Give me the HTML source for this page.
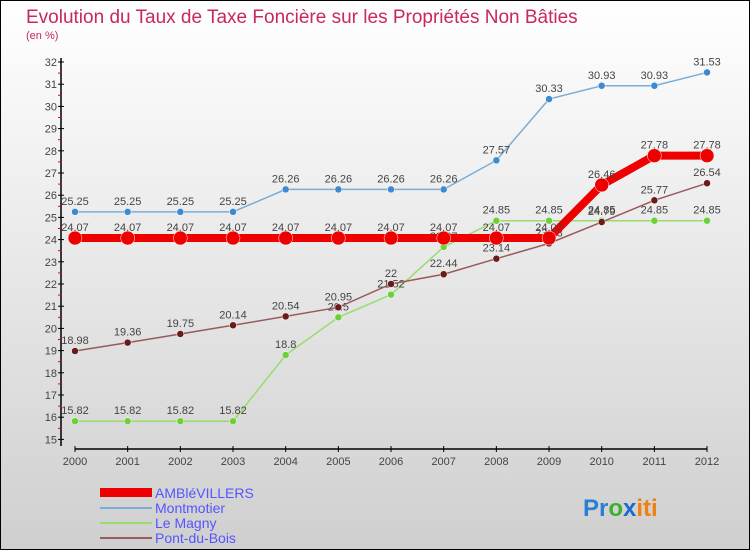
<!DOCTYPE html>
<html><head><meta charset="utf-8"><style>
body{margin:0}
#c{width:750px;height:550px;position:relative;overflow:hidden;font-family:"Liberation Sans",sans-serif}
svg text{font-family:"Liberation Sans",sans-serif}
</style></head><body>
<div id="c">
<svg id="s" width="750" height="550" xmlns="http://www.w3.org/2000/svg">
<defs><linearGradient id="bg" x1="0" y1="0" x2="0" y2="1"><stop offset="0" stop-color="#ffffff"/><stop offset="1" stop-color="#cfcfcf"/></linearGradient></defs>
<rect x="0.5" y="0.5" width="749" height="549" fill="url(#bg)" stroke="#000"/>
<text x="26" y="23" font-size="19" fill="#c8285a">Evolution du Taux de Taxe Foncière sur les Propriétés Non Bâties</text>
<text x="26" y="39" font-size="11" fill="#c8285a">(en %)</text>
<g id="axes"></g><g id="series"></g>
<g>
<rect x="100" y="488" width="52" height="9" fill="#e00"/>
<text x="155" y="498" font-size="14" fill="#55f">AMBléVILLERS</text>
<line x1="100" y1="508" x2="152" y2="508" stroke="#7aaed6" stroke-width="2"/>
<text x="155" y="513" font-size="14" fill="#55f">Montmotier</text>
<line x1="100" y1="523" x2="152" y2="523" stroke="#98dc6a" stroke-width="2"/>
<text x="155" y="528" font-size="14" fill="#55f">Le Magny</text>
<line x1="100" y1="538" x2="152" y2="538" stroke="#9a5a5a" stroke-width="2"/>
<text x="155" y="543" font-size="14" fill="#55f">Pont-du-Bois</text>
</g>
<text x="583" y="516" font-size="24" font-weight="bold"><tspan fill="#2a7fd4">Pr</tspan><tspan fill="#3cb030">o</tspan><tspan fill="#1a6ad0">x</tspan><tspan fill="#f08010">iti</tspan></text>
</svg></div>
<script>
const years=[2000,2001,2002,2003,2004,2005,2006,2007,2008,2009,2010,2011,2012];
const yTicks=[15,16,17,18,19,20,21,22,23,24,25,26,27,28,29,30,31,32];
const amble=[24.07,24.07,24.07,24.07,24.07,24.07,24.07,24.07,24.07,24.07,26.46,27.78,27.78];
const montmotier=[25.25,25.25,25.25,25.25,26.26,26.26,26.26,26.26,27.57,30.33,30.93,30.93,31.53];
const magny=[15.82,15.82,15.82,15.82,18.8,20.5,21.52,23.67,24.85,24.85,24.85,24.85,24.85];
const pont=[18.98,19.36,19.75,20.14,20.54,20.95,22,22.44,23.14,23.83,24.79,25.77,26.54];
const NS="http://www.w3.org/2000/svg";
const X=i=>75+i*52.67, Y=v=>62+(32-v)*22.2;
function mk(t,a,p){const e=document.createElementNS(NS,t);for(const k in a)e.setAttribute(k,a[k]);p.appendChild(e);return e;}
const ax=document.getElementById('axes');
let l=mk('line',{x1:61,y1:58,x2:61,y2:446,stroke:'#000','stroke-width':1.5},ax);


l=mk('line',{x1:75,y1:449,x2:707,y2:449,stroke:'#000','stroke-width':1.5},ax);


yTicks.forEach(v=>{mk('line',{x1:58,y1:Y(v),x2:64,y2:Y(v),stroke:'#000'},ax);
if(v<32)mk('line',{x1:58,y1:Y(v+0.5),x2:61,y2:Y(v+0.5),stroke:'#e00'},ax);
const t=mk('text',{x:57,y:Y(v)+4,'font-size':11,'text-anchor':'end',fill:'#444'},ax);t.textContent=v;

});
years.forEach((y,i)=>{mk('line',{x1:X(i),y1:446,x2:X(i),y2:452,stroke:'#000'},ax);
const t=mk('text',{x:X(i),y:465,'font-size':11,'text-anchor':'middle',fill:'#444'},ax);t.textContent=y;

});
const sg=document.getElementById('series');
function series(data,color,w,r,dot,name){
const g=mk('g',{},sg);


const p=mk('polyline',{points:data.map((v,i)=>X(i)+','+Y(v)).join(' '),fill:'none',stroke:color,'stroke-width':w},g);


data.forEach((v,i)=>{const c=mk('circle',{cx:X(i),cy:Y(v),r:r,fill:dot,stroke:'#fff','stroke-width':0.5},g);


const t=mk('text',{x:X(i),y:Y(v)-7,'font-size':11,'text-anchor':'middle',fill:'#444'},g);t.textContent=v;

});}
series(montmotier,'#7aaed6',1.5,3.5,'#3c8ad0','montmotier');
series(magny,'#98dc6a',1.5,3.5,'#6cd03a','le-magny');
series(pont,'#9a5a5a',1.5,3.5,'#6a1a1a','pont-du-bois');
series(amble,'#ee0000',8,7,'#ee0000','amblevillers');
</script>
</body></html>
